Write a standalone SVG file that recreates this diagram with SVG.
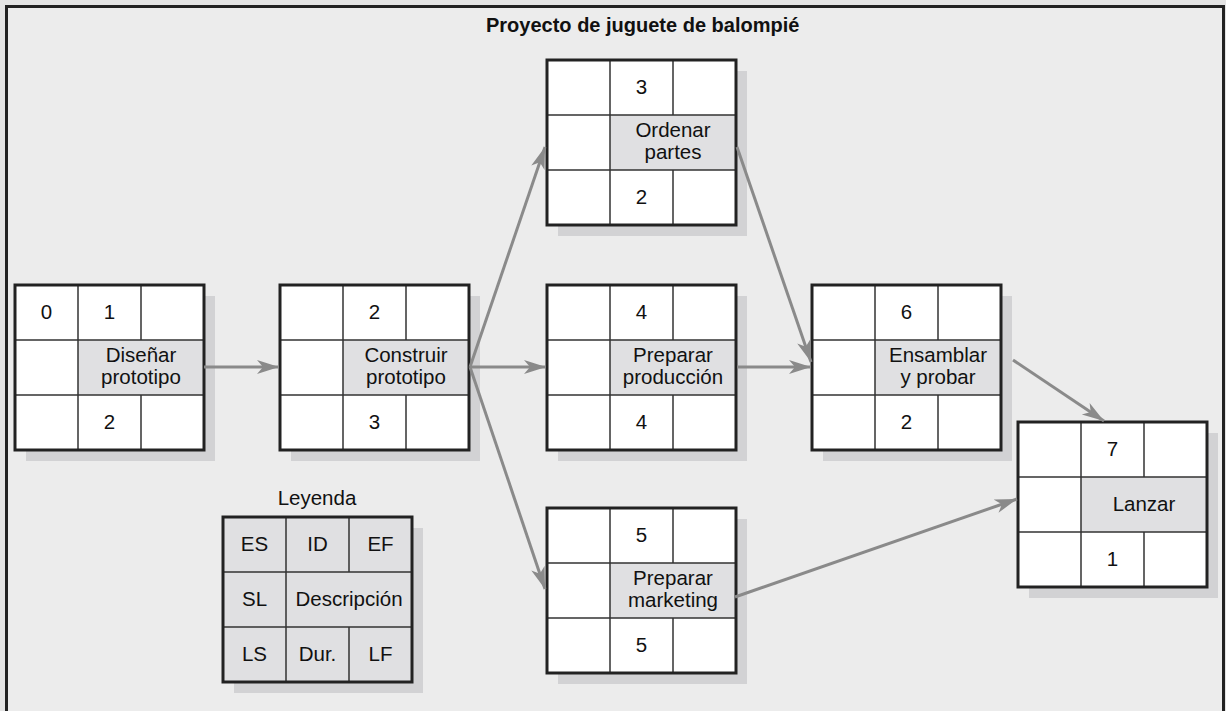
<svg xmlns="http://www.w3.org/2000/svg" width="1226" height="711" viewBox="0 0 1226 711">
<defs>
<style>
.bg{fill:#e4e4e4}
.frame{fill:#ececec;stroke:#222;stroke-width:3}
.sh{fill:#d2d2d4}
.cell{fill:#fff}
.mid{fill:#e0e0e2}
.in{stroke:#333;stroke-width:1.5;fill:none}
.bd{fill:none;stroke:#222;stroke-width:3}
text{font-family:"Liberation Sans",Arial,Helvetica,sans-serif;font-size:20.5px;fill:#111;text-anchor:middle}
.title{font-weight:bold;font-size:20px;text-anchor:start}
.conn line{stroke:#8a8a8a;stroke-width:3;fill:none}
</style>
<marker id="ah" markerUnits="userSpaceOnUse" markerWidth="24" markerHeight="16" refX="22" refY="8" orient="auto" viewBox="0 0 24 16">
<path d="M0,1 L22,8 L0,15 L6,8 Z" fill="#8a8a8a"/>
</marker>
</defs>
<rect class="bg" x="0" y="0" width="1226" height="711"/>
<rect class="frame" x="6.5" y="6.5" width="1217" height="730"/>
<text class="title" x="486" y="32">Proyecto de juguete de balompié</text>

<g id="n1">
<rect class="sh" x="26" y="296" width="189" height="165"/>
<rect class="cell" x="15" y="285" width="189" height="165"/>
<rect class="mid" x="78" y="340" width="126" height="55"/>
<path class="in" d="M78,285V450M141,285V340M141,395V450M15,340H204M15,395H204"/>
<rect class="bd" x="15" y="285" width="189" height="165"/>
<text x="46.5" y="319">0</text><text x="109.5" y="319">1</text>
<text x="141" y="362">Diseñar</text><text x="141" y="383.5">prototipo</text>
<text x="109.5" y="429">2</text>
</g>

<g id="n2">
<rect class="sh" x="291" y="296" width="189" height="165"/>
<rect class="cell" x="280" y="285" width="189" height="165"/>
<rect class="mid" x="343" y="340" width="126" height="55"/>
<path class="in" d="M343,285V450M406,285V340M406,395V450M280,340H469M280,395H469"/>
<rect class="bd" x="280" y="285" width="189" height="165"/>
<text x="374.5" y="319">2</text>
<text x="406" y="362">Construir</text><text x="406" y="383.5">prototipo</text>
<text x="374.5" y="429">3</text>
</g>

<g id="n3">
<rect class="sh" x="558" y="71" width="189" height="165"/>
<rect class="cell" x="547" y="60" width="189" height="165"/>
<rect class="mid" x="610" y="115" width="126" height="55"/>
<path class="in" d="M610,60V225M673,60V115M673,170V225M547,115H736M547,170H736"/>
<rect class="bd" x="547" y="60" width="189" height="165"/>
<text x="641.5" y="94">3</text>
<text x="673" y="137">Ordenar</text><text x="673" y="158.5">partes</text>
<text x="641.5" y="204">2</text>
</g>

<g id="n4">
<rect class="sh" x="558" y="296" width="189" height="165"/>
<rect class="cell" x="547" y="285" width="189" height="165"/>
<rect class="mid" x="610" y="340" width="126" height="55"/>
<path class="in" d="M610,285V450M673,285V340M673,395V450M547,340H736M547,395H736"/>
<rect class="bd" x="547" y="285" width="189" height="165"/>
<text x="641.5" y="319">4</text>
<text x="673" y="362">Preparar</text><text x="673" y="383.5">producción</text>
<text x="641.5" y="429">4</text>
</g>

<g id="n5">
<rect class="sh" x="558" y="519" width="189" height="165"/>
<rect class="cell" x="547" y="508" width="189" height="165"/>
<rect class="mid" x="610" y="563" width="126" height="55"/>
<path class="in" d="M610,508V673M673,508V563M673,618V673M547,563H736M547,618H736"/>
<rect class="bd" x="547" y="508" width="189" height="165"/>
<text x="641.5" y="542">5</text>
<text x="673" y="585">Preparar</text><text x="673" y="606.5">marketing</text>
<text x="641.5" y="652">5</text>
</g>

<g id="n6">
<rect class="sh" x="823" y="296" width="189" height="165"/>
<rect class="cell" x="812" y="285" width="189" height="165"/>
<rect class="mid" x="875" y="340" width="126" height="55"/>
<path class="in" d="M875,285V450M938,285V340M938,395V450M812,340H1001M812,395H1001"/>
<rect class="bd" x="812" y="285" width="189" height="165"/>
<text x="906.5" y="319">6</text>
<text x="938" y="362">Ensamblar</text><text x="938" y="383.5">y probar</text>
<text x="906.5" y="429">2</text>
</g>

<g id="n7">
<rect class="sh" x="1029" y="433" width="189" height="165"/>
<rect class="cell" x="1018" y="422" width="189" height="165"/>
<rect class="mid" x="1081" y="477" width="126" height="55"/>
<path class="in" d="M1081,422V587M1144,422V477M1144,532V587M1018,477H1207M1018,532H1207"/>
<rect class="bd" x="1018" y="422" width="189" height="165"/>
<text x="1112.5" y="456">7</text>
<text x="1144" y="511">Lanzar</text>
<text x="1112.5" y="566">1</text>
</g>

<g id="legend">
<text x="317" y="505">Leyenda</text>
<rect class="sh" x="234" y="528" width="189" height="165"/>
<rect class="mid" x="223" y="517" width="189" height="165"/>
<path class="in" d="M286,517V682M349,517V572M349,627V682M223,572H412M223,627H412"/>
<rect class="bd" x="223" y="517" width="189" height="165"/>
<text x="254.5" y="551">ES</text><text x="317.5" y="551">ID</text><text x="380.5" y="551">EF</text>
<text x="254.5" y="606">SL</text><text x="349" y="606">Descripción</text>
<text x="254.5" y="661">LS</text><text x="317.5" y="661">Dur.</text><text x="380.5" y="661">LF</text>
</g>

<g id="connectors" class="conn">
<line x1="204" y1="367" x2="279" y2="367" marker-end="url(#ah)"/>
<line x1="470" y1="367" x2="545" y2="147" marker-end="url(#ah)"/>
<line x1="470" y1="367" x2="546" y2="367" marker-end="url(#ah)"/>
<line x1="470" y1="367" x2="545" y2="589" marker-end="url(#ah)"/>
<line x1="737" y1="147" x2="811" y2="362" marker-end="url(#ah)"/>
<line x1="737" y1="367" x2="811" y2="367" marker-end="url(#ah)"/>
<line x1="1013" y1="360" x2="1104" y2="421" marker-end="url(#ah)"/>
<line x1="735" y1="597" x2="1017" y2="499" marker-end="url(#ah)"/>
</g>
</svg>
